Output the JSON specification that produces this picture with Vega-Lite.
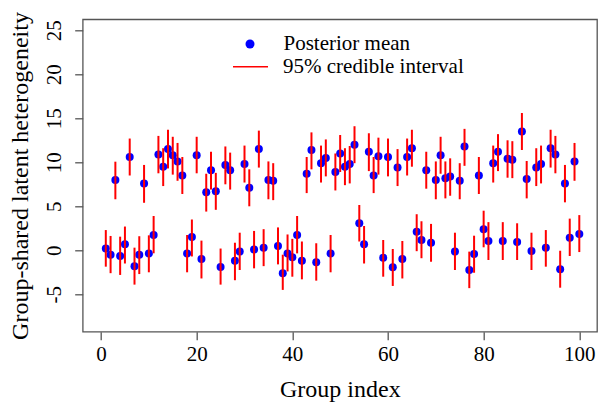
{
  "$schema": "https://vega.github.io/schema/vega-lite/v6.json",
  "width": 514.3,
  "height": 312.4,
  "autosize": "none",
  "padding": {"left": 82.7, "top": 19.3, "right": 1, "bottom": 70.3},
  "background": "white",
  "config": {
    "font": "Liberation Serif",
    "view": {"stroke": "#555", "strokeWidth": 1.3},
    "axis": {"grid": false, "domain": false, "tickColor": "#555", "tickWidth": 1.3, "tickSize": 8, "labelFont": "Liberation Serif", "labelFontSize": 21, "labelColor": "black", "titleFont": "Liberation Serif", "titleFontSize": 24, "titleFontWeight": "normal", "titleColor": "black"},
    "legend": {"labelFont": "Liberation Serif", "labelFontSize": 21, "labelColor": "black", "labelLimit": 400, "padding": 0, "rowPadding": 0, "clipHeight": 22}
  },
  "data": {"values": [
    {"i":1,"m":0.2,"lo":-1.86,"hi":2.3},
    {"i":2,"m":-0.5,"lo":-2.6,"hi":1.63},
    {"i":3,"m":8.0,"lo":5.8,"hi":10.07},
    {"i":4,"m":-0.65,"lo":-2.8,"hi":1.55},
    {"i":5,"m":0.7,"lo":-1.5,"hi":2.7},
    {"i":6,"m":10.6,"lo":8.5,"hi":12.7},
    {"i":7,"m":-1.8,"lo":-3.9,"hi":0.3},
    {"i":8,"m":-0.5,"lo":-2.7,"hi":1.6},
    {"i":9,"m":7.6,"lo":5.4,"hi":9.7},
    {"i":10,"m":-0.35,"lo":-2.5,"hi":1.7},
    {"i":11,"m":1.74,"lo":-0.34,"hi":3.9},
    {"i":12,"m":10.9,"lo":8.75,"hi":13.0},
    {"i":13,"m":9.5,"lo":7.3,"hi":11.6},
    {"i":14,"m":11.5,"lo":9.3,"hi":13.7},
    {"i":15,"m":10.8,"lo":8.6,"hi":12.9},
    {"i":16,"m":10.1,"lo":7.9,"hi":12.2},
    {"i":17,"m":8.5,"lo":6.4,"hi":10.6},
    {"i":18,"m":-0.35,"lo":-2.5,"hi":1.74},
    {"i":19,"m":1.5,"lo":-0.7,"hi":3.5},
    {"i":20,"m":10.8,"lo":8.75,"hi":12.9},
    {"i":21,"m":-1.0,"lo":-3.2,"hi":1.1},
    {"i":22,"m":6.6,"lo":4.4,"hi":8.7},
    {"i":23,"m":9.1,"lo":6.9,"hi":11.2},
    {"i":24,"m":6.7,"lo":4.6,"hi":8.8},
    {"i":25,"m":-1.9,"lo":-3.9,"hi":0.2},
    {"i":26,"m":9.7,"lo":7.5,"hi":11.8},
    {"i":27,"m":9.1,"lo":6.9,"hi":11.1},
    {"i":28,"m":-1.2,"lo":-3.4,"hi":0.86},
    {"i":29,"m":-0.15,"lo":-2.24,"hi":2.0},
    {"i":30,"m":9.8,"lo":7.7,"hi":11.9},
    {"i":31,"m":7.1,"lo":5.0,"hi":9.2},
    {"i":32,"m":0.1,"lo":-2.05,"hi":2.2},
    {"i":33,"m":11.5,"lo":9.4,"hi":13.6},
    {"i":34,"m":0.3,"lo":-1.8,"hi":2.4},
    {"i":35,"m":8.0,"lo":5.8,"hi":10.1},
    {"i":36,"m":7.9,"lo":5.7,"hi":9.9},
    {"i":37,"m":0.5,"lo":-1.6,"hi":2.6},
    {"i":38,"m":-2.6,"lo":-4.5,"hi":-0.5},
    {"i":39,"m":-0.35,"lo":-2.4,"hi":1.8},
    {"i":40,"m":-0.8,"lo":-3.0,"hi":1.3},
    {"i":41,"m":1.74,"lo":-0.35,"hi":3.9},
    {"i":42,"m":-1.2,"lo":-3.3,"hi":1.0},
    {"i":43,"m":8.7,"lo":6.5,"hi":10.6},
    {"i":44,"m":11.4,"lo":9.2,"hi":13.4},
    {"i":45,"m":-1.36,"lo":-3.45,"hi":0.8},
    {"i":46,"m":9.9,"lo":7.7,"hi":11.9},
    {"i":47,"m":10.5,"lo":8.4,"hi":12.6},
    {"i":48,"m":-0.35,"lo":-2.5,"hi":1.74},
    {"i":49,"m":8.9,"lo":6.8,"hi":11.0},
    {"i":50,"m":11.0,"lo":8.9,"hi":13.1},
    {"i":51,"m":9.5,"lo":7.4,"hi":11.6},
    {"i":52,"m":9.8,"lo":7.6,"hi":11.85},
    {"i":53,"m":12.0,"lo":9.9,"hi":14.1},
    {"i":54,"m":3.07,"lo":1.0,"hi":5.15},
    {"i":55,"m":0.68,"lo":-1.5,"hi":2.76},
    {"i":56,"m":11.2,"lo":9.0,"hi":13.3},
    {"i":57,"m":8.5,"lo":6.5,"hi":10.6},
    {"i":58,"m":10.7,"lo":8.6,"hi":12.8},
    {"i":59,"m":-0.84,"lo":-3.0,"hi":1.17},
    {"i":60,"m":10.6,"lo":8.4,"hi":12.7},
    {"i":61,"m":-1.93,"lo":-4.05,"hi":0.15},
    {"i":62,"m":9.4,"lo":7.3,"hi":11.5},
    {"i":63,"m":-1.0,"lo":-3.2,"hi":1.06},
    {"i":64,"m":10.6,"lo":8.5,"hi":12.7},
    {"i":65,"m":11.6,"lo":9.5,"hi":13.7},
    {"i":66,"m":2.1,"lo":-0.1,"hi":4.1},
    {"i":67,"m":1.17,"lo":-0.9,"hi":3.3},
    {"i":68,"m":9.1,"lo":7.0,"hi":11.2},
    {"i":69,"m":0.86,"lo":-1.3,"hi":3.0},
    {"i":70,"m":8.0,"lo":5.8,"hi":10.1},
    {"i":71,"m":10.8,"lo":8.7,"hi":12.9},
    {"i":72,"m":8.2,"lo":5.9,"hi":10.1},
    {"i":73,"m":8.4,"lo":6.2,"hi":10.45},
    {"i":74,"m":-0.15,"lo":-2.24,"hi":2.0},
    {"i":75,"m":7.9,"lo":5.8,"hi":9.9},
    {"i":76,"m":11.8,"lo":9.6,"hi":13.8},
    {"i":77,"m":-2.24,"lo":-4.3,"hi":-0.15},
    {"i":78,"m":-0.42,"lo":-2.55,"hi":1.66},
    {"i":79,"m":8.5,"lo":6.4,"hi":10.6},
    {"i":80,"m":2.4,"lo":0.34,"hi":4.5},
    {"i":81,"m":1.06,"lo":-1.1,"hi":3.2},
    {"i":82,"m":9.9,"lo":7.7,"hi":11.9},
    {"i":83,"m":11.2,"lo":9.0,"hi":13.2},
    {"i":84,"m":1.06,"lo":-1.1,"hi":3.2},
    {"i":85,"m":10.4,"lo":8.25,"hi":12.5},
    {"i":86,"m":10.3,"lo":8.2,"hi":12.4},
    {"i":87,"m":0.94,"lo":-1.1,"hi":3.07},
    {"i":88,"m":13.5,"lo":11.4,"hi":15.6},
    {"i":89,"m":8.1,"lo":5.9,"hi":10.15},
    {"i":90,"m":-0.08,"lo":-2.24,"hi":2.0},
    {"i":91,"m":9.4,"lo":7.3,"hi":11.6},
    {"i":92,"m":9.8,"lo":7.6,"hi":11.9},
    {"i":93,"m":0.3,"lo":-1.86,"hi":2.3},
    {"i":94,"m":11.6,"lo":9.4,"hi":13.7},
    {"i":95,"m":10.9,"lo":8.75,"hi":13.0},
    {"i":96,"m":-2.16,"lo":-4.25,"hi":-0.05},
    {"i":97,"m":7.6,"lo":5.45,"hi":9.7},
    {"i":98,"m":1.43,"lo":-0.65,"hi":3.6},
    {"i":99,"m":10.1,"lo":7.9,"hi":12.2},
    {"i":100,"m":1.85,"lo":-0.2,"hi":4.0}
  ]},
  "encoding": {
    "x": {"field": "i", "type": "quantitative", "scale": {"domain": [-3.83, 103.7], "nice": false, "zero": false},
      "axis": {"values": [0, 20, 40, 60, 80, 100], "title": "Group index", "labelFont": "Liberation Serif", "labelPadding": 4, "labelBaseline": "top", "titleY": 65, "titleBaseline": "alphabetic"}}
  },
  "layer": [
    {
      "mark": {"type": "point", "filled": true, "size": 64, "opacity": 1},
      "encoding": {
        "y": {"field": "m", "type": "quantitative", "scale": {"domain": [-9.25, 26.25], "nice": false, "zero": false},
          "axis": {"values": [-5, 0, 5, 10, 15, 20, 25], "title": "Group-shared latent heterogeneity", "labelExpr": "toString(datum.value)", "labelFont": "Liberation Serif", "labelAngle": -90, "labelAlign": "center", "labelBaseline": "middle", "labelPadding": 19.7, "titleX": -55.3, "titleBaseline": "alphabetic"}},
        "fill": {"datum": "Posterior mean", "type": "nominal",
          "scale": {"domain": ["Posterior mean"], "range": ["#0000ff"]},
          "legend": {"title": null, "orient": "none", "legendX": 156.8, "legendY": 13.7, "symbolType": "circle", "symbolSize": 81, "symbolStrokeWidth": 0, "labelOffset": 23}}
      }
    },
    {
      "mark": {"type": "rule", "strokeWidth": 2},
      "encoding": {
        "y": {"field": "lo", "type": "quantitative"},
        "y2": {"field": "hi"},
        "stroke": {"datum": "95% credible interval", "type": "nominal",
          "scale": {"domain": ["95% credible interval"], "range": ["#ff0000"]},
          "legend": {"title": null, "orient": "none", "legendX": 149.3, "legendY": 36.4, "symbolType": "stroke", "symbolSize": 1225, "symbolStrokeWidth": 1.5, "labelOffset": 14}}
      }
    }
  ]
}
